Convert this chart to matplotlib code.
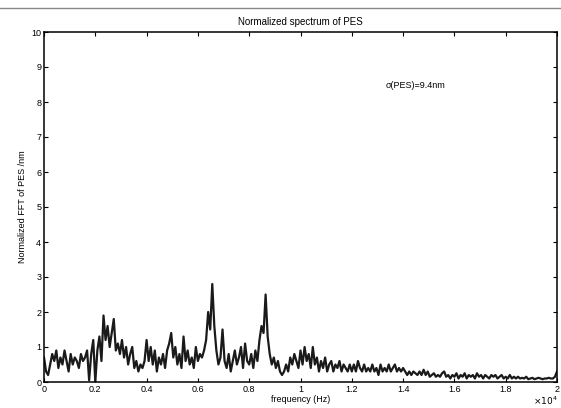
import numpy as np
import matplotlib
matplotlib.use("Agg")
import matplotlib.pyplot as plt
from matplotlib.ticker import FuncFormatter, MultipleLocator

plt.rcParams['font.family'] = ['Liberation Sans', 'DejaVu Sans']

# frequency grid in Hz (251 samples, 0 .. 2e4)
freq = np.linspace(0, 20000, 251)
# normalized FFT magnitude (nm)
amp = [
    0.7, 0.3, 0.2, 0.5, 0.8, 0.6, 0.9, 0.4, 0.7, 0.5, 0.9, 0.6, 0.3, 0.8, 0.5, 0.7, 0.6, 0.4, 0.8, 0.6, 0.7, 0.9, 0.05, 0.8, 1.2,
    0.0, 0.9, 1.3, 0.6, 1.9, 1.2, 1.6, 1.0, 1.4, 1.8, 0.9, 1.1, 0.8, 1.2, 0.7, 1.0, 0.5, 0.8, 1.0, 0.4, 0.6, 0.3, 0.5, 0.4, 0.6,
    1.2, 0.6, 1.0, 0.5, 0.9, 0.3, 0.7, 0.5, 0.8, 0.4, 0.9, 1.1, 1.4, 0.7, 1.0, 0.5, 0.8, 0.4, 1.3, 0.6, 0.9, 0.5, 0.7, 0.4, 1.0,
    0.6, 0.8, 0.7, 0.9, 1.2, 2.0, 1.5, 2.8, 1.6, 0.9, 0.5, 0.7, 1.5, 0.6, 0.4, 0.8, 0.3, 0.6, 0.9, 0.5, 0.7, 1.0, 0.4, 1.1, 0.6,
    0.5, 0.8, 0.4, 0.9, 0.6, 1.2, 1.6, 1.4, 2.5, 1.3, 0.8, 0.5, 0.7, 0.4, 0.6, 0.3, 0.2, 0.3, 0.5, 0.3, 0.7, 0.5, 0.8, 0.6, 0.4,
    0.9, 0.5, 1.0, 0.6, 0.8, 0.4, 1.0, 0.5, 0.7, 0.3, 0.6, 0.4, 0.7, 0.3, 0.5, 0.6, 0.3, 0.5, 0.4, 0.6, 0.3, 0.5, 0.4, 0.3, 0.5,
    0.3, 0.5, 0.3, 0.6, 0.4, 0.3, 0.5, 0.3, 0.4, 0.3, 0.5, 0.3, 0.4, 0.2, 0.5, 0.3, 0.4, 0.3, 0.5, 0.3, 0.4, 0.5, 0.3, 0.4, 0.3,
    0.4, 0.3, 0.2, 0.3, 0.2, 0.3, 0.25, 0.2, 0.3, 0.2, 0.35, 0.2, 0.3, 0.15, 0.2, 0.25, 0.15, 0.2, 0.15, 0.25, 0.3, 0.15, 0.2, 0.1, 0.2,
    0.15, 0.25, 0.1, 0.2, 0.15, 0.25, 0.1, 0.2, 0.15, 0.2, 0.1, 0.25, 0.15, 0.2, 0.1, 0.2, 0.15, 0.1, 0.2, 0.15, 0.2, 0.1, 0.15, 0.2, 0.1,
    0.15, 0.1, 0.2, 0.1, 0.15, 0.1, 0.15, 0.1, 0.12, 0.1, 0.15, 0.08, 0.1, 0.12, 0.08, 0.1, 0.12, 0.1, 0.08, 0.1, 0.1, 0.12, 0.1, 0.1, 0.15,
    0.3,
]
title = "Normalized spectrum of PES"
xlab = "frequency (Hz)"
ylab = "Normalized FFT of PES /nm"
note = "σ(PES)=9.4nm"

fig = plt.figure(figsize=(5.61, 4.08), dpi=100)
ax = fig.add_axes([44/561, 26/408, 513/561, 350/408])
ax.plot(freq, amp, color="#1a1a1a", lw=1.6)
ax.set_xlim(0, 20000)
ax.set_ylim(0, 10)
ax.xaxis.set_major_locator(MultipleLocator(2000))
ax.yaxis.set_major_locator(MultipleLocator(1))
ax.xaxis.set_major_formatter(FuncFormatter(lambda v, p: "%g" % (v/1e4)))
ax.tick_params(direction="in", top=True, right=True, labelsize=6.5, length=3, pad=2)
for s in ax.spines.values():
    s.set_linewidth(1.1)
ax.set_title(title, fontsize=7, pad=5)
ax.set_xlabel(xlab, fontsize=6.5, labelpad=1)
ax.set_ylabel(ylab, fontsize=6.5, labelpad=3)
ax.text(13300, 8.4, note, fontsize=6.5)
fig.text(545/561, 3/408, r"$\times10^4$", fontsize=6.5, ha="center")
# scan artifact line at top of page
fig.add_artist(plt.Line2D([0, 1], [400/408, 400/408], color="#888888", lw=1))
fig.savefig("out.png", dpi=100)
